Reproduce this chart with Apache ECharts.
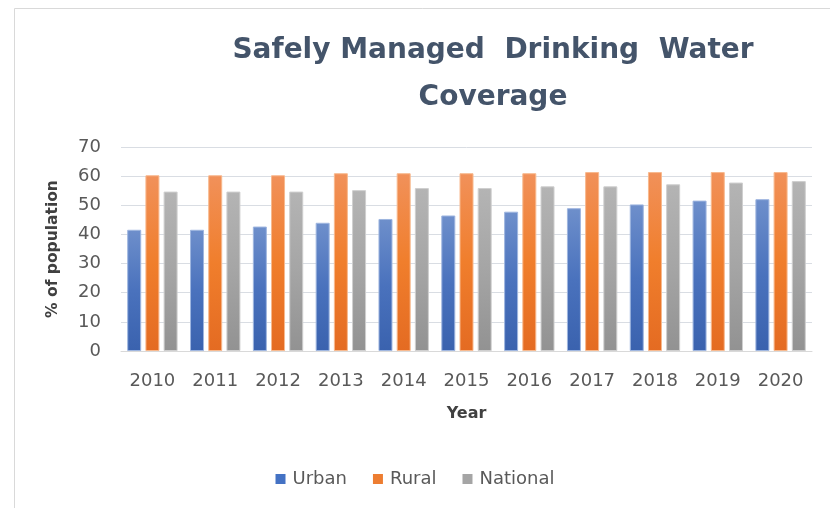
<!DOCTYPE html>
<html><head><meta charset="utf-8">
<script src="https://cdn.jsdelivr.net/npm/echarts@6/dist/echarts.min.js"></script>
<style>html,body{margin:0;padding:0;background:#fff}#c{width:830px;height:508px}</style>
</head><body><div id="c"></div>
<script>
const years = ['2010','2011','2012','2013','2014','2015','2016','2017','2018','2019','2020'];
const urban = [41.6, 41.6, 42.7, 44.0, 45.3, 46.5, 47.8, 49.0, 50.3, 51.6, 52.1];
const rural = [60.3, 60.3, 60.3, 61.0, 61.0, 61.0, 61.0, 61.4, 61.4, 61.4, 61.4];
const national = [54.7, 54.7, 54.7, 55.2, 55.9, 55.9, 56.5, 56.5, 57.2, 57.8, 58.3];
const seriesNames = ['Urban', 'Rural', 'National'];

function grad3(a, b, c) {
  return new echarts.graphic.LinearGradient(0, 0, 0, 1, [
    {offset: 0, color: a}, {offset: 0.5, color: b}, {offset: 1, color: c}
  ]);
}
const styles = [
  {color: grad3('#6e8fcb', '#4a72bd', '#3a62ae'), borderColor: '#9fb6e0', legend: '#4472c4'},
  {color: grad3('#f1915a', '#f07e2c', '#e46b22'), borderColor: '#f8b98e', legend: '#ed7d31'},
  {color: grad3('#b4b4b4', '#a5a5a5', '#929292'), borderColor: '#cfcfcf', legend: '#a5a5a5'}
];
const dataSets = [urban, rural, national];

const chart = echarts.init(document.getElementById('c'));
chart.setOption({
  animation: false,
  title: {
    text: 'Safely Managed  Drinking  Water\nCoverage',
    left: 488, top: 22, textAlign: 'center',
    textStyle: {fontFamily: 'DejaVu Sans', fontSize: 28, fontWeight: 'bold', color: '#44546a', lineHeight: 47}
  },
  graphic: [
    {type: 'polyline', shape: {points: [[14.5, 508], [14.5, 8.5], [830, 8.5]]}, style: {stroke: '#d9d9d9', lineWidth: 1, fill: null}}
  ],
  legend: {
    top: 465, left: 'center',
    itemWidth: 10, itemHeight: 10, itemGap: 26,
    icon: 'rect',
    textStyle: {fontFamily: 'DejaVu Sans', fontSize: 18, color: '#595959', padding: [0, 0, 0, 2]},
    data: seriesNames.map((n, i) => ({name: n, itemStyle: {color: styles[i].legend, borderWidth: 0}}))
  },
  grid: {left: 121, right: 18, top: 147, bottom: 157},
  xAxis: {
    type: 'category', data: years,
    name: 'Year', nameLocation: 'middle', nameGap: 55,
    nameTextStyle: {fontFamily: 'DejaVu Sans', fontSize: 16, fontWeight: 'bold', color: '#404040'},
    axisLine: {lineStyle: {color: '#d9d9d9'}},
    axisTick: {show: false},
    axisLabel: {fontFamily: 'DejaVu Sans', fontSize: 18, color: '#595959', margin: 21}
  },
  yAxis: {
    type: 'value', min: 0, max: 70, interval: 10,
    name: '% of population', nameLocation: 'middle', nameGap: 60,
    nameTextStyle: {fontFamily: 'DejaVu Sans', fontSize: 15.5, fontWeight: 'bold', color: '#404040'},
    axisLine: {show: false}, axisTick: {show: false},
    axisLabel: {fontFamily: 'DejaVu Sans', fontSize: 18, color: '#595959', margin: 20},
    splitLine: {lineStyle: {color: '#d9dde3'}}
  },
  series: seriesNames.map((n, i) => ({
    name: n, type: 'bar', data: dataSets[i],
    barWidth: 14, barGap: '30%',
    itemStyle: {color: styles[i].color, borderColor: styles[i].borderColor, borderWidth: 1}
  }))
});
</script></body></html>
